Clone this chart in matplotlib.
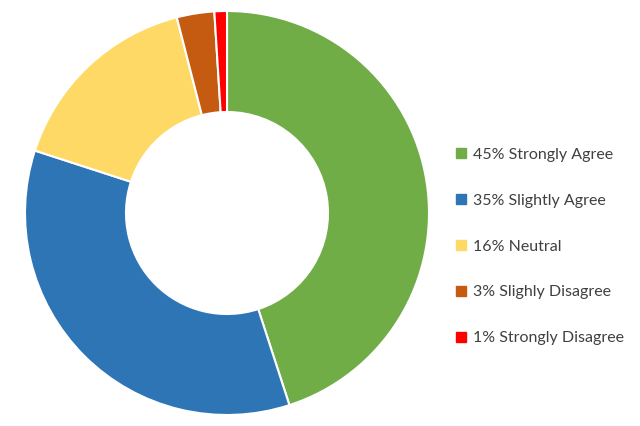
import matplotlib
matplotlib.use("Agg")
import matplotlib.pyplot as plt
from matplotlib.lines import Line2D

labels = ["Strongly Agree", "Slightly Agree", "Neutral", "Slighly Disagree", "Strongly Disagree"]
values = [45, 35, 16, 3, 1]
colors = ["#70AD47", "#2E75B6", "#FFD966", "#C55A11", "#FF0000"]

fig = plt.figure(figsize=(6.4, 4.26), dpi=100)
ax = fig.add_axes([25/640, 11/426, 404/640, 404/426])
ax.pie(values, colors=colors, startangle=90, counterclock=False, radius=1,
       wedgeprops=dict(width=0.5, edgecolor="white", linewidth=1.5))
ax.set_xlim(-1.0, 1.0)
ax.set_ylim(-1.0, 1.0)
ax.set_aspect("equal")
ax.axis("off")

handles = [Line2D([], [], linestyle="none", marker="s", markersize=6.5,
                  markerfacecolor=c, markeredgecolor=c) for c in colors]
leg_labels = [f"{v}% {n}" for v, n in zip(values, labels)]
fig.legend(handles, leg_labels, loc="center left", bbox_to_anchor=(442/640, 1 - 246.5/426),
           frameon=False, handlelength=0.6, handletextpad=0.45, labelspacing=1.98,
           prop=dict(family="Lato", size=11.5), labelcolor="#404040")
fig.savefig("out.png", dpi=100)
